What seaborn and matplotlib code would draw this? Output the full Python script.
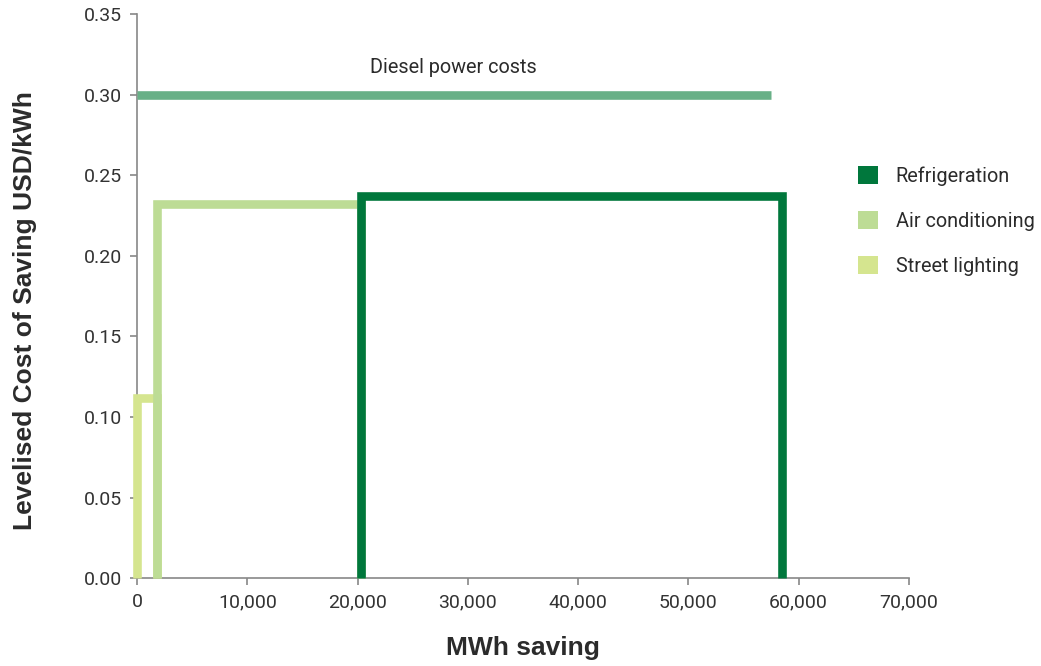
import numpy as np
import pandas as pd
import matplotlib
matplotlib.use("Agg")
import matplotlib.pyplot as plt
import seaborn as sns
from matplotlib.patches import Patch

# Data
categories = ["Street lighting", "Air conditioning", "Refrigeration"]
widths_mwh = [1800, 18500, 38200]        # MWh saving of each measure
costs = [0.112, 0.232, 0.237]            # levelised cost USD/kWh
colors = ["#d5e58f", "#bddc95", "#00773c"]
diesel_cost = 0.30
diesel_end = 57500
legend_order = ["Refrigeration", "Air conditioning", "Street lighting"]

sns.set_theme(style="white")
plt.rcParams['font.family'] = ['Roboto', 'DejaVu Sans']

fig = plt.figure(figsize=(10.41, 6.66), dpi=100)
ax = fig.add_axes([0.1316, 0.132, 0.873 - 0.1316, 0.979 - 0.132])

# Build step outlines from data
rows = []
start = 0
for cat, w, c in zip(categories, widths_mwh, costs):
    end = start + w
    for i, (xx, yy) in enumerate([(start, 0), (start, c), (end, c), (end, 0)]):
        rows.append({"cat": cat, "order": i, "x": xx, "y": yy})
    start = end
df = pd.DataFrame(rows)

lw = 6.2
for cat, col in zip(categories, colors):
    sub = df[df["cat"] == cat]
    sns.lineplot(data=sub, x="x", y="y", sort=False, estimator=None, ax=ax,
                 color=col, linewidth=lw, solid_joinstyle="miter",
                 solid_capstyle="butt", legend=False)

diesel = pd.DataFrame({"x": [0, diesel_end], "y": [diesel_cost, diesel_cost]})
sns.lineplot(data=diesel, x="x", y="y", ax=ax, color="#68b087", linewidth=lw,
             solid_capstyle="butt", legend=False)
for ln in ax.get_lines():
    ln.set_clip_on(False)
    ln.set_zorder(5)

ax.text(28700, 0.3165, "Diesel power costs", ha="center", va="center",
        fontsize=14.3, color="#2b2b2b")

ax.set_xlim(0, 70000)
ax.set_ylim(0, 0.35)
ax.set_xticks(np.arange(0, 70001, 10000))
ax.set_xticklabels([f"{int(v):,}" for v in np.arange(0, 70001, 10000)])
ax.set_yticks(np.arange(0, 0.351, 0.05))
ax.set_yticklabels([f"{v:.2f}" for v in np.arange(0, 0.351, 0.05)])

for s in ["top", "right"]:
    ax.spines[s].set_visible(False)
for s in ["left", "bottom"]:
    ax.spines[s].set_color("#888888")
    ax.spines[s].set_linewidth(1.2)
    ax.spines[s].set_zorder(2)
ax.tick_params(axis="both", which="major", direction="out", length=5, width=1.2,
               color="#888888", labelsize=14, labelcolor="#333333", pad=6,
               bottom=True, left=True)

ax.set_xlabel("MWh saving", fontsize=19, fontweight="bold", color="#2b2b2b",
              labelpad=18, family=["Liberation Sans", "DejaVu Sans"])
ax.set_ylabel("Levelised Cost of Saving USD/kWh", fontsize=19, fontweight="bold",
              color="#2b2b2b", family=["Liberation Sans", "DejaVu Sans"])
ax.yaxis.set_label_coords(-0.1296, 0.475)

color_map = dict(zip(categories, colors))
handles = [Patch(facecolor=color_map[c], edgecolor="none", label=c) for c in legend_order]
fig.legend(handles=handles, loc="upper left", bbox_to_anchor=(0.807, 0.777),
           frameon=False, fontsize=14.3, handlelength=1.0, handleheight=1.0,
           handletextpad=0.9, labelspacing=1.27, labelcolor="#2b2b2b")

fig.savefig("out.png", dpi=100)
